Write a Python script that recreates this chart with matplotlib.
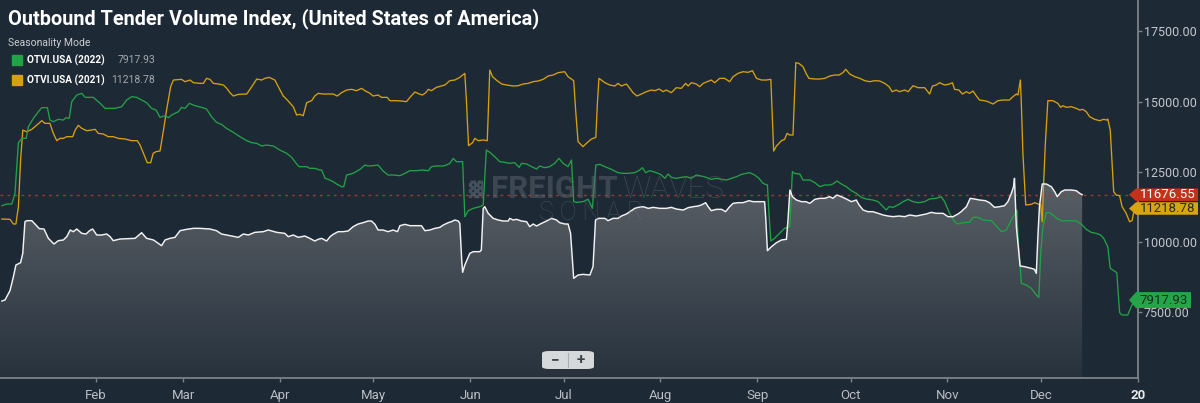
import numpy as np
import matplotlib.pyplot as plt
from matplotlib.patches import Polygon, FancyBboxPatch, Rectangle
from matplotlib.colors import LinearSegmentedColormap
from matplotlib.lines import Line2D

# day of year (0 = Jan 1) and index value
CUR_DAY = [0.9, 1.9, 3.5, 4.6, 5.4, 6.9, 7.6, 8.3, 8.9, 10.5, 11.5, 12.9, 14.4, 15.8, 17.6,
           19.0, 20.6, 21.7, 22.8, 23.8, 24.9, 26.5, 27.9, 29.0, 30.0, 31.3, 32.9, 34.5,
           35.6, 36.6, 38.8, 41.4, 43.6, 45.7, 47.3, 49.5, 51.0, 52.1, 53.2, 54.8, 56.4,
           58.0, 60.1, 62.3, 64.4, 67.6, 69.7, 71.3, 74.0, 76.7, 78.3, 79.9, 82.0, 84.7,
           86.3, 89.0, 91.6, 92.7, 94.3, 95.9, 98.0, 99.6, 101.2, 102.3, 103.4, 105.0,
           106.1, 107.1, 108.7, 110.3, 111.9, 113.5, 115.1, 116.7, 118.3, 119.4, 120.5,
           121.5, 123.1, 124.7, 126.3, 127.7, 128.5, 130.1, 131.7, 133.8, 135.4, 136.5,
           138.1, 139.7, 141.3, 142.4, 144.0, 145.0, 146.1, 147.2, 147.7, 148.3, 148.6,
           149.3, 150.9, 152.0, 154.1, 154.6, 155.2, 155.7, 156.8, 158.4, 160.0, 161.6,
           163.2, 163.7, 164.8, 165.9, 167.5, 169.1, 170.1, 171.2, 172.3, 173.9, 175.5,
           177.1, 178.7, 179.7, 181.4, 182.4, 183.2, 184.2, 185.6, 187.2, 189.4, 190.4,
           191.2, 192.2, 194.2, 195.2, 196.8, 198.4, 199.5, 201.1, 202.7, 203.8, 204.9,
           206.5, 208.1, 209.7, 211.8, 213.9, 215.5, 217.1, 219.3, 220.9, 222.5, 224.1,
           225.1, 226.5, 227.3, 228.3, 229.9, 231.6, 232.9, 234.2, 235.3, 236.9, 238.5,
           240.4, 241.7, 243.3, 245.4, 245.8, 246.3, 247.6, 249.2, 250.8, 252.4, 252.9,
           253.5, 254.3, 255.6, 257.2, 258.6, 259.9, 261.5, 263.1, 264.7, 266.3, 267.3,
           268.6, 270.0, 271.6, 273.2, 274.8, 275.7, 277.0, 278.5, 280.1, 281.8, 283.4,
           285.0, 286.6, 288.5, 290.3, 291.9, 294.0, 295.6, 297.2, 298.8, 300.4, 302.6,
           304.2, 305.8, 307.4, 308.4, 310.1, 311.3, 312.7, 314.3, 316.2, 317.5, 319.1,
           320.7, 322.3, 323.4, 324.5, 325.2, 325.5, 326.1, 326.9, 327.3, 328.7, 330.9,
           331.9, 332.5, 333.0, 333.5, 334.4, 335.7, 337.3, 338.4, 339.2, 340.5, 341.6,
           343.7, 345.3, 346.4, 347.2]
CUR_VAL = [7885, 7921, 8254, 8753, 9169, 9252, 9585, 10714, 10750, 10750, 10631, 10465,
           10453, 10120, 9918, 10037, 10061, 10180, 10417, 10358, 10453, 10298, 10275,
           10393, 10453, 10239, 10239, 10275, 10180, 10037, 10096, 10108, 10120, 10322,
           10120, 10061, 9942, 9858, 10061, 10120, 10156, 10393, 10441, 10477, 10477,
           10453, 10393, 10275, 10215, 10156, 10275, 10239, 10334, 10358, 10417, 10334,
           10298, 10180, 10239, 10156, 10203, 10120, 10025, 10085, 10120, 10025, 10180,
           10263, 10358, 10358, 10382, 10536, 10631, 10679, 10738, 10738, 10619, 10417,
           10417, 10358, 10417, 10358, 10572, 10619, 10572, 10572, 10572, 10393, 10417,
           10477, 10512, 10596, 10679, 10714, 10774, 10738, 10655, 9347, 8907, 9169, 9585,
           9645, 9645, 9704, 11190, 11249, 11012, 10833, 10774, 10738, 10738, 10833, 10774,
           10797, 10738, 10714, 10536, 10631, 10560, 10655, 10738, 10833, 10774, 10679,
           10631, 10631, 10298, 8694, 8812, 8836, 8812, 9110, 10774, 10833, 10833, 10750,
           10833, 10833, 10916, 10988, 11107, 11190, 11225, 11249, 11190, 11225, 11190,
           11190, 11225, 11166, 11130, 11214, 11249, 11273, 11309, 11392, 11249, 11107,
           11154, 11154, 11071, 11249, 11368, 11392, 11392, 11463, 11428, 11428, 11428,
           10774, 9680, 9823, 9965, 10061, 10085, 10774, 11844, 11606, 11487, 11428, 11428,
           11368, 11511, 11547, 11547, 11606, 11547, 11665, 11606, 11523, 11428, 11487,
           11309, 11130, 11071, 11071, 11012, 10952, 10916, 10893, 10916, 10893, 10952,
           10916, 10952, 10988, 11047, 11012, 11012, 10893, 10893, 10988, 11071, 11249,
           11547, 11523, 11487, 11463, 11392, 11225, 11249, 11285, 11428, 11725, 11962,
           12260, 10536, 9585, 9134, 9110, 9050, 9015, 8872, 10180, 11249, 12058, 12058,
           11962, 11784, 11606, 11784, 11844, 11844, 11820, 11725, 11676.55]

Y2022_DAY = [0.9, 2.5, 4.1, 5.1, 6.2, 7.3, 8.7, 9.4, 11.0, 12.6, 13.7, 15.5, 16.3, 17.4,
             19.0, 20.6, 21.5, 22.5, 23.3, 24.9, 26.5, 27.6, 30.2, 32.4, 34.0, 37.2, 39.3,
             40.9, 42.5, 44.1, 45.7, 47.3, 48.9, 50.3, 51.6, 53.2, 54.3, 55.3, 57.5, 58.5,
             59.6, 61.0, 62.8, 64.9, 66.5, 68.1, 69.7, 71.3, 72.9, 75.1, 77.2, 79.4, 81.0,
             82.6, 84.2, 85.8, 87.9, 90.0, 92.2, 93.8, 95.4, 96.2, 98.6, 99.6, 101.2, 102.8,
             103.4, 104.5, 105.5, 107.1, 108.2, 109.8, 110.5, 111.4, 113.5, 115.7, 117.3,
             118.3, 119.9, 121.5, 123.1, 124.7, 126.3, 128.5, 130.1, 131.7, 133.8, 135.9,
             137.6, 138.6, 140.2, 142.4, 143.4, 144.5, 145.6, 146.6, 148.6, 149.3, 150.4,
             152.0, 154.1, 155.2, 156.2, 157.3, 158.9, 160.5, 162.1, 163.7, 165.3, 166.7,
             167.5, 169.1, 170.7, 172.3, 173.3, 174.9, 176.5, 178.1, 179.5, 180.8, 182.4,
             183.5, 184.2, 185.1, 187.2, 188.8, 190.2, 191.3, 192.6, 194.2, 196.3, 198.4,
             200.0, 201.7, 203.8, 205.4, 206.2, 207.3, 208.6, 209.7, 211.3, 212.3, 213.4,
             214.5, 215.5, 217.1, 218.7, 220.3, 221.9, 223.5, 225.1, 226.7, 228.3, 229.9,
             231.6, 233.2, 234.8, 236.4, 238.0, 239.6, 240.6, 242.2, 243.6, 244.9, 246.3,
             246.8, 247.4, 248.6, 250.2, 251.8, 252.9, 253.5, 254.3, 255.0, 256.7, 257.7,
             259.9, 261.5, 263.1, 264.7, 266.3, 267.3, 268.6, 270.0, 271.6, 273.2, 274.8,
             276.4, 278.0, 280.1, 281.8, 283.4, 284.4, 285.3, 286.6, 288.6, 289.8, 291.4,
             293.0, 294.6, 296.7, 298.3, 300.4, 302.0, 303.1, 304.7, 306.3, 307.4, 309.0,
             311.1, 312.2, 313.8, 315.4, 318.1, 319.7, 321.3, 322.9, 324.5, 325.5, 326.3,
             326.6, 327.3, 327.7, 329.3, 330.9, 332.5, 333.3, 333.9, 334.6, 335.7, 336.7,
             337.8, 339.4, 341.0, 343.2, 345.3, 346.9, 348.5, 350.1, 351.7, 353.1, 354.1,
             355.4, 356.2, 357.3, 358.3, 359.2, 360.0, 361.8, 362.9, 364.0]
Y2022_VAL = [11285, 11344, 11344, 11725, 13532, 13686, 13686, 14102, 14399, 14637, 14780,
             14780, 14340, 14280, 14364, 14340, 14423, 14399, 14994, 15231, 15291, 15148,
             15148, 14934, 14756, 14756, 14815, 15053, 15172, 15148, 15053, 14958, 14756,
             14697, 14435, 14494, 14423, 14518, 14637, 14792, 14756, 14934, 14851, 14792,
             14732, 14459, 14257, 14185, 14043, 13900, 13746, 13603, 13532, 13508, 13413,
             13448, 13413, 13270, 13151, 13009, 12771, 12676, 12676, 12617, 12617, 12557,
             12557, 12260, 12224, 12141, 12058, 11962, 11962, 12379, 12438, 12581, 12735,
             12700, 12712, 12735, 12521, 12379, 12379, 12355, 12438, 12533, 12533, 12557,
             12533, 12676, 12700, 12700, 12735, 12795, 12973, 12854, 12854, 10893, 11107,
             11190, 11249, 11309, 13270, 13187, 13032, 12854, 12830, 12795, 12818, 12652,
             12795, 12771, 12676, 12593, 12700, 12640, 12676, 12795, 12973, 12795, 12676,
             12914, 11428, 11404, 11428, 11511, 11190, 12735, 12759, 12676, 12581, 12462,
             12438, 12438, 12462, 12557, 12640, 12462, 12533, 12497, 12438, 12379, 12260,
             12414, 12295, 12260, 12295, 12319, 12260, 12379, 12343, 12295, 12224, 12260,
             12224, 12200, 12260, 12319, 12402, 12438, 12462, 12379, 12260, 12081, 12022,
             11012, 10025, 10120, 10298, 10477, 10512, 10536, 12497, 12438, 12414, 12200,
             12200, 12106, 11962, 12022, 12022, 12058, 12165, 12058, 11962, 11820, 11725,
             11582, 11523, 11487, 11428, 11249, 11130, 11249, 11225, 11340, 11428, 11511,
             11428, 11392, 11428, 11523, 11547, 11606, 11428, 11012, 10714, 10631, 10679,
             10691, 10869, 10869, 10774, 10750, 10560, 10358, 10417, 10774, 10952, 11130,
             10180, 9169, 8515, 8456, 8337, 8099, 8016, 9585, 10536, 11036, 11036,
             10952, 10809, 10738, 10750, 10738, 10631, 10441, 10334, 10298, 10239, 10120,
             9823, 9050, 8967, 8896, 7470, 7386, 7386, 7683, 7917.93]

Y2021_DAY = [0.9, 3.5, 4.6, 5.4, 6.2, 6.9, 7.6, 8.9, 10.5, 12.1, 13.7, 14.7, 16.3, 17.4,
             18.5, 19.5, 20.6, 21.7, 23.6, 24.4, 25.4, 26.5, 28.1, 29.4, 30.8, 31.8, 33.4,
             35.0, 36.6, 38.2, 40.4, 42.5, 44.3, 45.2, 46.5, 47.5, 48.6, 49.4, 50.3, 51.6,
             52.7, 53.7, 55.0, 55.9, 58.5, 59.6, 61.2, 62.3, 64.4, 65.5, 66.5, 67.6, 68.7,
             70.3, 71.9, 73.0, 74.0, 75.1, 76.7, 79.4, 81.0, 82.6, 84.2, 85.2, 86.6, 88.4,
             89.5, 91.1, 92.4, 94.3, 95.4, 96.4, 97.5, 98.6, 100.2, 101.2, 102.3, 103.9,
             105.5, 107.1, 108.4, 109.8, 111.4, 113.0, 114.6, 116.2, 117.3, 118.9, 119.9,
             121.5, 122.6, 124.4, 125.3, 127.4, 129.0, 130.6, 131.7, 133.3, 134.7, 135.7,
             136.8, 137.6, 138.6, 140.2, 141.8, 142.9, 144.5, 146.1, 147.7, 149.3, 149.8,
             150.5, 151.8, 152.5, 153.6, 155.2, 156.5, 157.3, 158.2, 159.4, 161.1, 162.7,
             164.8, 166.4, 168.0, 169.6, 171.2, 172.8, 174.4, 176.0, 177.6, 179.2, 181.3,
             182.4, 184.2, 184.9, 185.6, 187.2, 188.5, 189.9, 191.3, 191.8, 192.3, 194.2,
             195.8, 197.4, 198.4, 199.5, 201.1, 202.2, 203.2, 204.5, 205.9, 207.5, 209.1,
             210.2, 211.6, 212.9, 213.9, 215.5, 217.1, 218.7, 220.1, 220.9, 221.9, 223.5,
             224.6, 225.7, 227.0, 228.3, 229.4, 231.0, 232.6, 234.2, 235.3, 236.9, 238.5,
             240.1, 241.5, 242.8, 244.4, 246.0, 247.4, 248.3, 249.2, 250.8, 251.8, 252.6,
             253.5, 254.5, 255.4, 256.4, 257.7, 258.8, 259.6, 261.5, 263.1, 264.7, 266.3,
             267.9, 269.3, 270.5, 271.4, 272.7, 274.3, 275.9, 277.5, 279.1, 280.7, 282.3,
             283.9, 285.3, 286.3, 287.6, 288.6, 290.3, 291.4, 293.0, 294.6, 296.7, 298.3,
             299.2, 300.4, 301.5, 303.1, 304.7, 305.6, 306.3, 307.7, 308.8, 310.1, 311.1,
             312.2, 313.3, 314.3, 315.9, 317.0, 318.6, 320.2, 321.8, 323.9, 325.0, 326.1,
             326.6, 327.4, 327.7, 328.2, 329.1, 330.9, 332.0, 333.3, 333.9, 334.4, 334.8,
             335.4, 336.2, 337.8, 339.4, 340.3, 341.0, 342.1, 343.7, 345.3, 346.4, 347.4,
             348.5, 349.6, 351.2, 352.8, 354.1, 355.1, 355.4, 356.2, 357.3, 358.1, 359.2,
             360.0, 361.3, 362.4, 363.2, 364.0]
Y2021_VAL = [10809, 10797, 10631, 10631, 11249, 12914, 13979, 13924, 14007, 14162, 14316,
             14221, 14221, 13864, 13603, 13686, 13686, 13746, 13746, 13979, 14150, 14043,
             13959, 13979, 14007, 13864, 13841, 13746, 13746, 13686, 13662, 13603, 13603,
             13448, 13092, 12818, 12818, 13151, 13211, 13235, 13979, 14697, 15529, 15766,
             15790, 15707, 15766, 15671, 15647, 15647, 15826, 15790, 15647, 15624, 15588,
             15469, 15315, 15196, 15255, 15267, 15529, 15802, 15766, 15826, 15861, 15766,
             15529, 15196, 15053, 14815, 14518, 14542, 14494, 14958, 15029, 15196, 15291,
             15267, 15267, 15267, 15196, 15315, 15410, 15434, 15386, 15469, 15386, 15291,
             15196, 15231, 15148, 15148, 15029, 15029, 15017, 14994, 15148, 15338, 15267,
             15231, 15315, 15434, 15386, 15505, 15552, 15588, 15743, 15766, 15861, 16004,
             15053, 13424, 13532, 13686, 13603, 13627, 13603, 16123, 15885, 15766, 15624,
             15588, 15552, 15564, 15624, 15647, 15707, 15731, 15790, 15909, 15945, 16028,
             16063, 15885, 15743, 14578, 13567, 13389, 13532, 13662, 13722, 14934, 15826,
             15671, 15588, 15552, 15647, 15552, 15624, 15469, 15315, 15196, 15267, 15350,
             15410, 15386, 15446, 15350, 15410, 15315, 15493, 15469, 15647, 15552, 15671,
             15624, 15529, 15647, 15707, 15766, 15671, 15826, 15826, 15707, 15885, 16004,
             16063, 16040, 16099, 15826, 15766, 15766, 15790, 13234, 13413, 13603, 13650,
             13864, 13805, 13805, 16384, 16361, 16242, 15980, 15826, 15802, 15802, 15826,
             15909, 15945, 15945, 16028, 16147, 15980, 15885, 15826, 15743, 15707, 15743,
             15731, 15647, 15529, 15350, 15410, 15350, 15410, 15350, 15564, 15493, 15493,
             15267, 15552, 15588, 15671, 15588, 15624, 15671, 15434, 15410, 15267, 15350,
             15291, 15374, 15196, 15053, 15029, 14994, 14910, 15029, 15053, 15053, 15172,
             15267, 15231, 15766, 14934, 13151, 11309, 11333, 11392, 11333, 11309, 10714,
             11962, 13508, 15029, 15029, 14934, 14792, 14851, 14792, 14815, 14756, 14697,
             14720, 14637, 14459, 14364, 14316, 14364, 14340, 14376, 13979, 11784, 11665,
             11642, 11249, 11012, 10714, 10750, 11218.78]

MONTH_TICKS = [31, 59, 90, 120, 151, 181, 212, 243, 273, 304, 334, 365]
MONTH_LABELS = ["Feb", "Mar", "Apr", "May", "Jun", "Jul", "Aug", "Sep", "Oct", "Nov", "Dec", "20"]
Y_TICKS = [7500, 10000, 12500, 15000, 17500]

LAST_CUR = 11676.55
LAST_2022 = 7917.93
LAST_2021 = 11218.78

BG = "#1d2935"
GREEN = "#22a246"
YELLOW = "#d7a10d"
W, H = 1200, 403

plt.rcParams["font.family"] = ["Roboto", "DejaVu Sans"]


def fig_xy(x, y):
    # pixel position (from top-left) -> figure fraction
    return (x / W, 1 - y / H)


fig = plt.figure(figsize=(W / 100, H / 100), dpi=100, facecolor=BG)
ax = fig.add_axes([0, 1 - 377.7 / H, 1137.7 / W, 377.7 / H])
ax.set_facecolor(BG)

# gradient area under the current-year line
cmap = LinearSegmentedColormap.from_list("area", ["#27323d", "#5b6168"])
grad = np.linspace(0, 1, 256).reshape(-1, 1)
im = ax.imshow(grad, extent=[0, CUR_DAY[-1], 5150, 12400], origin="lower",
               aspect="auto", cmap=cmap, zorder=1)
area = ax.fill_between([0] + CUR_DAY, [CUR_VAL[0]] + CUR_VAL, 5150,
                       facecolor="none", edgecolor="none")
im.set_clip_path(area.get_paths()[0], transform=ax.transData)

ax.plot(Y2021_DAY, Y2021_VAL, color=YELLOW, lw=0.95, zorder=3)
ax.plot(Y2022_DAY, Y2022_VAL, color=GREEN, lw=0.95, zorder=3)
ax.plot(CUR_DAY, CUR_VAL, color="#f2f2f2", lw=1.05, zorder=4)
ax.axhline(LAST_CUR, color="#9b3b30", lw=1.0, ls=(0, (2, 3)), zorder=2)

ax.set_xlim(0.3, 365)
ax.set_ylim(5150, 18620)

for s in ["top", "left"]:
    ax.spines[s].set_visible(False)
ax.spines["bottom"].set_color("#7b828a")
ax.spines["right"].set_color("#7b828a")
ax.spines["bottom"].set_linewidth(1.3)
ax.spines["right"].set_linewidth(1.3)

ax.set_xticks(MONTH_TICKS)
ax.set_xticklabels(MONTH_LABELS)
ax.tick_params(axis="x", colors="#7b828a", labelcolor="#b9bec4", length=3, width=1,
               pad=5, labelsize=9.5)
ax.get_xticklabels()[-1].set_fontweight("bold")
ax.get_xticklabels()[-1].set_color("#e8eaec")

ax.yaxis.tick_right()
ax.set_yticks(Y_TICKS)
ax.set_yticklabels([f"{v:.2f}" for v in Y_TICKS])
ax.tick_params(axis="y", colors="#7b828a", labelcolor="#c3c8cd", length=3, width=1,
               pad=1.5, labelsize=9)

# watermark
fig.text(*fig_xy(468, 189), "\u2593", color="#56616c", fontsize=13, va="center", alpha=0.7)
fig.text(*fig_xy(491, 189), "FREIGHT", color="#5b6570", fontsize=22.5, fontweight="bold",
         va="center", alpha=0.5)
fig.text(*fig_xy(622, 189), "WAVES", color="#5b6570", fontsize=22.5, fontweight="light",
         va="center", alpha=0.5)
fig.text(*fig_xy(539, 213), "S O N A R", color="#6c7680", fontsize=18, fontweight="light",
         va="center", alpha=0.4)

# title and legend
fig.text(*fig_xy(8, 19), "Outbound Tender Volume Index, (United States of America)",
         color="white", fontsize=14.3, fontweight="bold", va="center")
fig.text(*fig_xy(8, 43), "Seasonality Mode", color="#c9cdd1", fontsize=7.5, va="center")
for yc, col, name, val in [(60, GREEN, "OTVI.USA (2022)", LAST_2022),
                           (80, YELLOW, "OTVI.USA (2021)", LAST_2021)]:
    fig.patches.append(Rectangle(fig_xy(12, yc + 5), 10 / W, 10 / H, color=col,
                                 transform=fig.transFigure))
    fig.text(*fig_xy(27, yc), name, color="white", fontsize=7.2, fontweight="bold",
             va="center")
    fig.text(*fig_xy(155, yc), f"{val:.2f}", color="#a3a8ad", fontsize=7.5, va="center",
             ha="right")

# zoom buttons
fig.patches.append(FancyBboxPatch(fig_xy(542, 369), 52 / W, 18 / H,
                                  boxstyle="round,pad=0,rounding_size=0.006",
                                  facecolor="#d6d9dc", edgecolor="none",
                                  transform=fig.transFigure, zorder=5))
fig.lines.append(Line2D([568 / W, 568 / W], [1 - 353 / H, 1 - 367 / H], color="#a9aeb3",
                        lw=0.8, transform=fig.transFigure, zorder=6))
fig.text(*fig_xy(555, 360), "\u2212", color="#3d4247", fontsize=11, fontweight="bold",
         ha="center", va="center", zorder=7)
fig.text(*fig_xy(581, 360), "+", color="#3d4247", fontsize=11, fontweight="bold",
         ha="center", va="center", zorder=7)

# last-value tags on the right axis
fig.canvas.draw()
for val, face, txtcol, h, right in [(LAST_CUR, "#c4321a", "white", 12.5, 1198),
                                    (LAST_2021, "#d9a50d", "#2b2b2b", 12.5, 1198),
                                    (LAST_2022, "#25a449", "#10301a", 16, 1191)]:
    yc = H - ax.transData.transform((0, val))[1]
    if val == LAST_2021:
        yc = max(yc, 208.5)
    pts = [fig_xy(1129, yc), fig_xy(1136, yc - h / 2), fig_xy(right, yc - h / 2),
           fig_xy(right, yc + h / 2), fig_xy(1136, yc + h / 2)]
    fig.patches.append(Polygon(pts, closed=True, facecolor=face, edgecolor="none",
                               transform=fig.transFigure, zorder=8))
    fig.text(*fig_xy((1137 + right) / 2, yc), f"{val:.2f}", color=txtcol, fontsize=9.5,
             ha="center", va="center", zorder=9)

fig.savefig("out.png", dpi=100, facecolor=BG)
